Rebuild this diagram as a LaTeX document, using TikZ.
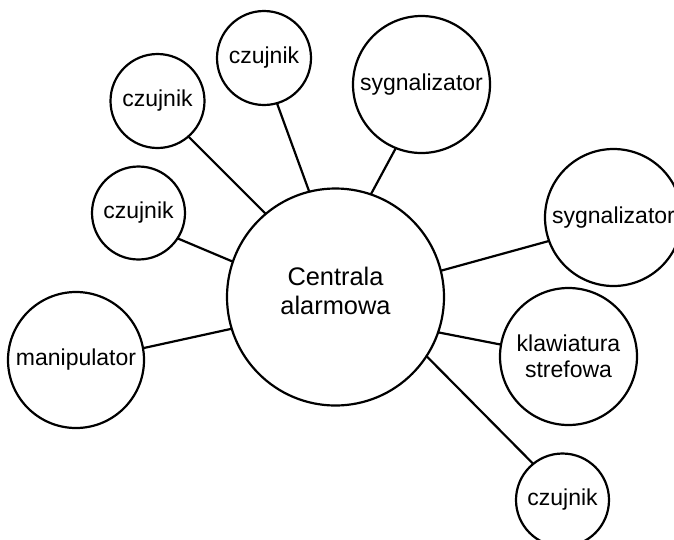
\documentclass[tikz,border=0pt]{standalone}
\usepackage{fontspec}
\setmainfont{Liberation Sans}
\begin{document}
\begin{tikzpicture}[x=1pt,y=-1pt,
  bub/.style={circle,draw=black,line width=2.2pt,inner sep=0pt,outer sep=0pt,fill=white},
  lbl/.style={font=\fontsize{23}{26}\selectfont,align=center,inner sep=0pt},
  link/.style={line width=2.2pt,draw=black}]
\useasboundingbox (0,0) rectangle (674,539);
\clip (0,0) rectangle (674,539);
% circles
\node[bub,minimum size=217pt] (c) at (335.5,297) {};
\node[font=\fontsize{25.4}{29}\selectfont,align=center,inner sep=0pt] at ([yshift=6pt]c.center) {Centrala\\alarmowa};
\node[bub,minimum size=94pt,lbl] (t1) at (264,58) {czujnik};
\node[bub,minimum size=94pt,lbl] (t2) at (157.5,101) {czujnik};
\node[bub,minimum size=93pt,lbl] (t3) at (138.5,213) {czujnik};
\node[bub,minimum size=136pt,lbl] (m) at (76,360) {manipulator};
\node[bub,minimum size=137pt,lbl] (s1) at (421.5,84.5) {sygnalizator};
\node[bub,minimum size=137pt,lbl] (s2) at (613.5,217.5) {sygnalizator};
\node[bub,minimum size=137pt,lbl] (k) at (568.5,356.5) {klawiatura\\strefowa};
\node[bub,minimum size=93pt,lbl] (b) at (562.5,500) {czujnik};
% connectors
\draw[link] (t1.-74) -- (c.104.7);
\draw[link] (t2.-49.6) -- (c.130);
\draw[link] (t3.-33) -- (c.161.1);
\draw[link] (m.10) -- (c.197.4);
\draw[link] (s1.-112) -- (c.71.6);
\draw[link] (s2.200.2) -- (c.14.9);
\draw[link] (k.170.5) -- (c.-19);
\draw[link] (b.129.7) -- (c.-33.7);
\end{tikzpicture}
\end{document}
